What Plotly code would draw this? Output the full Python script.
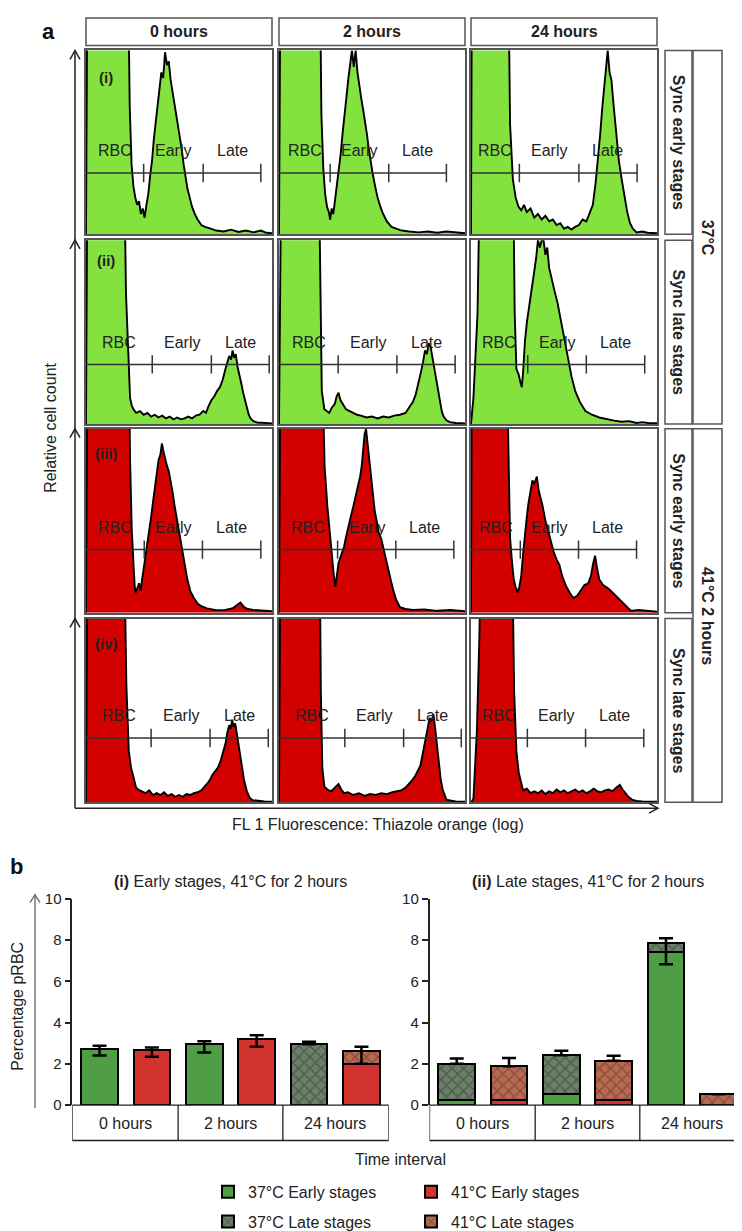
import plotly.graph_objects as go

W, H = 742, 1231
FONT = "Liberation Sans, Arial, Helvetica, sans-serif"
TXT = "#222222"


def px(x):
    return x / W


def py(y):
    return 1 - y / H


# ---------------- data: panel a (flow cytometry histograms) ----------------
hours = ["0 hours", "2 hours", "24 hours"]
row_tags = ["(i)", "(ii)", "(iii)", "(iv)"]
row_labels = ["Sync early stages", "Sync late stages", "Sync early stages", "Sync late stages"]
temp_labels = ["37°C", "41°C 2 hours"]
gate_names = ["RBC", "Early", "Late"]
row_fill = ["#84E23F", "#84E23F", "#D30000", "#D30000"]

# x: log fluorescence channel (0-100 of panel range), y: relative cell count (0-100)
h11_x = [0, 0.8, 22.5, 23.5, 24.5, 25.5, 26.5, 27.5, 28.5, 29.5, 30.5, 31.5, 32.5, 33.5, 34.5, 35.5, 36.5, 37.5, 38.5, 39.5, 40.5, 41.5, 42.5, 43.5, 44.5, 45.5, 46.5, 47.5, 48.5, 49.5, 50.5, 51.5, 52.5, 53.5, 54.5, 55.5, 57, 58.5, 60, 62, 64, 67, 70, 74, 78, 82, 86, 90, 94, 97, 100]
h11_y = [0, 150, 150, 70, 38, 26, 20, 16, 18, 11, 14, 9, 16, 22, 32, 40, 52, 62, 72, 80, 88, 85, 99, 92, 94, 84, 78, 72, 66, 58, 52, 46, 38, 31, 25, 21, 15, 11, 8, 5, 4, 3, 2, 1.5, 2.5, 1.2, 2, 1, 2, 0.8, 0.5]
h12_x = [0, 0.8, 21.9, 22.8, 23.8, 24.8, 25.8, 26.8, 27.5, 28.3, 29.2, 30.2, 31.2, 32.2, 33.2, 34.2, 35.2, 36.2, 37.2, 38.2, 39.2, 40.2, 41.2, 42.2, 43.2, 44.2, 45.2, 46.2, 47.2, 48.2, 49.2, 50.2, 51.5, 53, 54.5, 56, 58, 60.5, 63, 66, 70, 75, 80, 85, 90, 95, 100]
h12_y = [0, 150, 150, 65, 36, 22, 15, 12, 8, 14, 11, 19, 26, 34, 44, 55, 63, 74, 84, 93, 100, 91, 100, 88, 80, 74, 68, 62, 55, 47, 40, 34, 27, 20, 15, 11, 7, 4, 3, 2, 1.5, 1, 1.5, 0.8, 1.5, 0.8, 0.5]
h13_x = [0, 0.5, 20, 21, 22.5, 24, 25.5, 27, 28.5, 30, 32, 34, 36, 38, 40, 42, 44, 46, 48, 50, 52, 54, 56, 58, 60, 62, 64, 65.5, 67, 68.5, 69.5, 70.5, 71.5, 72.5, 73.5, 74.5, 75.5, 76.5, 77.5, 78.5, 79.5, 81, 82.5, 84, 85.5, 87, 89, 92, 95, 100]
h13_y = [0, 150, 150, 60, 30, 20, 15, 13, 16, 12, 14, 9, 11, 8, 10, 7, 8, 5, 6, 3, 4, 2.5, 4, 5, 8, 7, 12, 16, 28, 42, 55, 68, 80, 92, 100, 88, 84, 72, 60, 52, 40, 30, 20, 12, 6, 3, 1, 1.5, 0.8, 0.5]

h21_x = [0, 0.8, 20.4, 21.5, 22.5, 23.7, 24.6, 25.5, 27, 29, 31, 33, 35, 37, 39, 41, 43, 45, 47, 49, 51, 53, 55, 57, 59, 61, 63, 64.5, 66, 67.5, 69, 70.5, 72, 73.5, 75, 76, 77, 78, 78.8, 79.6, 80.5, 81.5, 82.5, 83.5, 84.5, 85.5, 86.5, 87.5, 88.5, 90, 92, 95, 100]
h21_y = [0, 150, 150, 71, 45, 14, 10, 8, 6, 7, 5, 6, 4, 5, 3.5, 4.5, 3, 4, 2.5, 3.5, 2.5, 3, 4, 3, 4.5, 5, 7, 6, 10, 13, 15, 18, 20, 24, 30, 33, 37, 35, 40, 36, 38, 31, 27, 22, 17, 13, 9, 5, 3, 1.5, 0.8, 0.5, 0.3]
h22_x = [0, 1.3, 21.3, 22.2, 23, 24.4, 25.5, 27, 28.5, 30, 31, 32, 33, 34.6, 36, 38, 40, 42, 44, 47, 50, 53, 56, 59, 62, 65, 68, 70, 72, 73.5, 75, 76.5, 77.5, 78.5, 79.5, 80.5, 81.5, 82.5, 83.5, 84.5, 85.5, 86.5, 87.5, 88.5, 90, 92, 95, 100]
h22_y = [0, 150, 150, 60, 18, 8, 7, 6, 9, 11, 15, 17, 13, 10, 8, 7, 6, 5, 4.5, 3.5, 4, 3, 4, 3.5, 4.5, 5, 6, 9, 12, 16, 22, 29, 34, 40, 38, 44, 42, 36, 30, 24, 19, 13, 7, 4, 2, 1, 0.5, 0.3]
h23_x = [0, 1.3, 3.5, 5, 22.5, 23.5, 24.4, 25.6, 26.5, 27.3, 28, 29, 30, 31, 32, 33, 34, 35, 36, 37, 38, 39, 40, 41, 42, 43.5, 45, 46.5, 48, 49.5, 51, 52.5, 54, 56, 58.5, 61.5, 65, 69, 73, 77, 81, 85, 89, 92, 96, 100]
h23_y = [0, 14, 60, 150, 150, 60, 30, 27, 23, 20, 28, 45, 55, 62, 70, 76, 84, 90, 100, 96, 100, 100, 92, 96, 85, 78, 72, 66, 58, 48, 40, 32, 26, 18, 12, 7, 5, 3.5, 2.5, 1.8, 1.2, 1.5, 0.5, 1, 0.4, 0.4]

h31_x = [0, 0.8, 23, 23.7, 24.6, 25.5, 26.2, 26.8, 27.5, 28.5, 29.3, 30.2, 31, 32, 33, 34, 35, 36, 37, 38, 39, 40, 40.8, 41.6, 42.5, 43.5, 44.5, 45.5, 46.5, 47.5, 48.5, 49.5, 50.5, 51.5, 52.5, 53.5, 54.5, 56, 58, 60, 62, 65, 70, 75, 79, 81, 83, 85, 87, 90, 95, 100]
h31_y = [0, 150, 150, 83, 45, 22, 14, 11, 13, 16, 12, 18, 24, 30, 38, 44, 52, 60, 68, 76, 83, 86, 92, 88, 84, 80, 77, 72, 66, 59, 53, 48, 41, 35, 29, 23, 18, 12, 8, 5, 3.5, 2.3, 1.4, 1.5, 2.5, 4, 5.5, 3, 2, 1.5, 1, 0.8]
h32_x = [0, 0.8, 23, 24.5, 26, 27.5, 28.5, 29.3, 30.3, 31, 32, 33, 34, 35, 36, 37, 38, 39, 40, 41, 42, 43, 43.6, 44.5, 45.3, 46, 46.8, 47.5, 48.5, 49.5, 50.5, 51.5, 52.5, 53.5, 55, 56.5, 57.7, 59, 60.5, 61.5, 63, 65, 68, 72, 78, 85, 92, 100]
h32_y = [0, 150, 150, 80, 58, 40, 32, 22, 14, 20, 27, 30, 33, 36, 41, 46, 50, 54, 58, 62, 66, 70, 74, 80, 88, 97, 100, 93, 86, 72, 62, 55, 50, 44, 40, 33, 28, 22, 16, 12, 7, 3, 2, 1.5, 1.8, 1, 1.5, 0.8]
h33_x = [0, 0.5, 19, 20, 21, 22, 23, 24, 25, 26, 27, 28, 29, 30, 30.8, 32, 33, 34, 35.4, 36.5, 37.5, 38.5, 40, 41.5, 43, 44.5, 46, 47.5, 49, 51, 53, 55, 57, 59, 61, 63, 64.5, 65.5, 66.7, 67.8, 69, 71, 74, 77, 79.5, 82, 84.6, 86, 90, 95, 100]
h33_y = [0, 150, 150, 90, 41, 28, 18, 14, 11, 14, 20, 32, 44, 52, 59, 66, 72, 70, 74, 66, 62, 58, 50, 44, 38, 33, 29, 26, 20, 14.7, 11, 8, 9, 12, 15, 16, 20, 26, 31, 24, 18, 15, 13, 10, 7.6, 5, 2.3, 1, 1.5, 0.8, 0.5]

h41_x = [0, 0.8, 20.4, 21.7, 23, 24.2, 25.5, 26.8, 28, 30, 32, 34, 36, 38, 40, 42, 44, 46, 48, 50, 52, 54, 56, 58, 60, 62, 63.5, 65, 66.5, 68, 69.5, 71, 72.5, 74, 75, 76, 77, 77.8, 78.6, 79.4, 80.2, 81, 82, 83, 84, 85, 86.5, 88, 89.5, 92, 96, 100]
h41_y = [0, 150, 150, 64, 28, 19, 14, 8.5, 7, 6, 5, 6.5, 4, 5, 4, 5.5, 3.5, 4.5, 3, 4, 3, 4.5, 4, 5, 5.5, 6.5, 8, 10, 12, 15, 17, 19, 23, 28, 32, 38, 42, 40, 45, 41, 43, 38, 32, 25, 19, 12, 6, 2.5, 1.2, 0.8, 0.5, 0.4]
h42_x = [0, 0.8, 21.8, 22.5, 23.3, 24.4, 26, 28, 30, 32, 33.5, 35, 37, 40, 43, 46, 49, 52, 55, 58, 61, 64, 66, 68, 70, 71.5, 73, 74.5, 76, 77, 78, 79, 80, 81, 82, 83, 84, 85, 86, 87, 88, 89, 90, 92, 95, 100]
h42_y = [0, 150, 150, 60, 19, 8.5, 7, 6, 8, 10, 7, 5, 5.5, 4, 5, 3.5, 4.5, 4, 5, 4.5, 5.5, 6, 6.7, 8, 10, 12, 14, 17, 20, 25, 30, 37, 42, 46, 44, 48, 40, 30, 19, 12, 7, 4, 1.5, 1, 0.5, 0.4]
h43_x = [0, 1.3, 3.2, 4.5, 5.5, 22, 23.2, 24.4, 25.7, 27, 28, 30, 32, 34, 36, 38, 40, 42, 44, 46, 48, 50, 52, 54, 56, 58, 60, 62, 64, 66, 68, 70, 72, 74, 76, 78, 80, 81.5, 83, 84.6, 86.5, 89, 92, 96, 100]
h43_y = [0, 2, 40, 90, 150, 150, 60, 28, 16, 10, 6.5, 7.5, 5, 6, 5, 6.5, 4.5, 6, 5, 7, 5.5, 6.5, 5, 6, 7, 5.5, 6.5, 5, 6, 7.5, 6, 5.5, 6.5, 7, 6, 8, 9.5, 7, 5, 3, 1.5, 0.8, 0.5, 0.4, 0.3]

curves = [
    [(h11_x, h11_y), (h12_x, h12_y), (h13_x, h13_y)],
    [(h21_x, h21_y), (h22_x, h22_y), (h23_x, h23_y)],
    [(h31_x, h31_y), (h32_x, h32_y), (h33_x, h33_y)],
    [(h41_x, h41_y), (h42_x, h42_y), (h43_x, h43_y)],
]

# gate boundaries (end of RBC / end of Early / end of Late) on the channel axis
gates = [
    [[31, 63, 94], [27.5, 59, 90], [26, 58, 89.3]],
    [[35.6, 67.4, 98.5], [31.8, 63.4, 94.7], [30.5, 62, 93.4]],
    [[31.3, 62.6, 94], [31.5, 62.8, 94], [26.5, 57.8, 89]],
    [[35, 66.7, 98], [35.4, 67, 98], [30.3, 61.6, 92.9]],
]
gate_level = [33.3, 32.4, 34.3, 35.0]

# ---------------- data: panel b (bar charts) ----------------
groups = ["0 hours", "2 hours", "24 hours"]
# (i) Early stages, 41°C for 2 hours
early37_i = [2.72, 2.98, None]
late37_i = [None, None, 2.95]
early41_i = [2.66, 3.18, 2.00]
late41_i = [None, None, 0.60]
errup37_i = [0.16, 0.12, 0.12]
errdn37_i = [0.32, 0.43, 0.0]
errup41_i = [0.13, 0.20, 0.23]
errdn41_i = [0.32, 0.35, 0.60]
# (ii) Late stages, 41°C for 2 hours
early37_ii = [0.25, 0.55, 7.40]
late37_ii = [1.75, 1.87, 0.45]
early41_ii = [0.25, 0.25, None]
late41_ii = [1.63, 1.90, 0.53]
errup37_ii = [0.26, 0.21, 0.24]
errdn37_ii = [0.0, 0.0, 1.03]
errup41_ii = [0.40, 0.24, 0.0]
errdn41_ii = [0.0, 0.0, 0.0]

C_E37 = "#4F9E45"
C_E41 = "#D3332E"
PAT37 = dict(shape="x", bgcolor="#6b7f69", fgcolor="#2a332a", size=8, solidity=0.3)
PAT41 = dict(shape="x", bgcolor="#b66a52", fgcolor="#5a2a20", size=8, solidity=0.3)

# ---------------- geometry (pixels) ----------------
panel_left = [78, 271, 463]
panel_w = 186
row_top = [34, 227, 419, 612]
row_h = 187

fig = go.Figure()
layout = {}
shapes = []
ann = []

BOX = dict(color="#555555", width=1.5)

# column headers
for c, hname in enumerate(hours):
    x0 = panel_left[c]
    shapes.append(dict(type="rect", xref="paper", yref="paper", x0=px(x0), x1=px(x0 + panel_w),
                       y0=py(29), y1=py(1), line=BOX))
    ann.append(dict(x=px(x0 + panel_w / 2), y=py(15), text="<b>%s</b>" % hname,
                    font=dict(size=16, color=TXT)))

k = 0
for r in range(4):
    for c in range(3):
        k += 1
        xa = "x" if k == 1 else "x%d" % k
        ya = "y" if k == 1 else "y%d" % k
        xl = "xaxis" if k == 1 else "xaxis%d" % k
        yl = "yaxis" if k == 1 else "yaxis%d" % k
        cx, cy = curves[r][c]
        fig.add_trace(go.Scatter(x=cx, y=cy, mode="lines", fill="tozeroy", fillcolor=row_fill[r],
                                 line=dict(color="black", width=1.9), xaxis=xa, yaxis=ya,
                                 showlegend=False, hoverinfo="skip"))
        t = gates[r][c]
        gy = gate_level[r]
        gx = [0, t[-1], None]
        gyy = [gy, gy, None]
        for tv in t:
            gx += [tv, tv, None]
            gyy += [gy - 5, gy + 5, None]
        fig.add_trace(go.Scatter(x=gx, y=gyy, mode="lines", line=dict(color="#333333", width=1.5),
                                 xaxis=xa, yaxis=ya, showlegend=False, hoverinfo="skip"))
        bounds = [0] + t
        for i, gname in enumerate(gate_names):
            ann.append(dict(x=(bounds[i] + bounds[i + 1]) / 2, y=gy + 12, xref=xa, yref=ya, text=gname,
                            font=dict(size=16, color=TXT)))
        x0 = panel_left[c]
        y0 = row_top[r]
        layout[xl] = dict(domain=[px(x0), px(x0 + panel_w)], range=[0, 100], anchor=ya,
                          showticklabels=False, ticks="", showgrid=False, zeroline=False,
                          showline=True, mirror=True, linecolor="#555555", linewidth=1.5, fixedrange=True)
        layout[yl] = dict(domain=[py(y0 + row_h), py(y0)], range=[0, 100], anchor=xa,
                          showticklabels=False, ticks="", showgrid=False, zeroline=False,
                          showline=True, mirror=True, linecolor="#555555", linewidth=1.5, fixedrange=True)

    # row tag and strip labels
    y0 = row_top[r]
    ann.append(dict(x=px(panel_left[0] + 20), y=py([62, 248, 444, 637][r]), text="<b>%s</b>" % row_tags[r],
                    font=dict(size=15, color=TXT)))
    shapes.append(dict(type="rect", xref="paper", yref="paper", x0=px(657), x1=px(684),
                       y0=py(y0 + row_h), y1=py(y0), line=BOX))
    ann.append(dict(x=px(670.5), y=py(y0 + row_h / 2), text="<b>%s</b>" % row_labels[r], textangle=90,
                    font=dict(size=16, color=TXT)))
    # up arrowhead on the count axis
    shapes.append(dict(type="path", xref="paper", yref="paper",
                       path="M %f %f L %f %f L %f %f" % (px(62), py(y0 + 9), px(67), py(y0), px(72), py(y0 + 9)),
                       line=dict(color="#222", width=1.5)))

for t_i, tl in enumerate(temp_labels):
    ytop = row_top[2 * t_i]
    ybot = row_top[2 * t_i + 1] + row_h
    shapes.append(dict(type="rect", xref="paper", yref="paper", x0=px(685), x1=px(714),
                       y0=py(ybot), y1=py(ytop), line=BOX))
    ann.append(dict(x=px(699.5), y=py((ytop + ybot) / 2), text="<b>%s</b>" % tl, textangle=90,
                    font=dict(size=16, color=TXT)))

# axes arrows of panel a
shapes.append(dict(type="line", xref="paper", yref="paper", x0=px(67), x1=px(67), y0=py(805), y1=py(34),
                   line=dict(color="#222", width=1.5)))
shapes.append(dict(type="line", xref="paper", yref="paper", x0=px(67), x1=px(650), y0=py(805), y1=py(805),
                   line=dict(color="#222", width=1.5)))
shapes.append(dict(type="path", xref="paper", yref="paper",
                   path="M %f %f L %f %f L %f %f" % (px(641), py(800), px(650), py(805), px(641), py(810)),
                   line=dict(color="#222", width=1.5)))
ann.append(dict(x=px(43), y=py(418), text="Relative cell count", textangle=-90, font=dict(size=16, color=TXT)))
ann.append(dict(x=px(370), y=py(822), text="FL 1 Fluorescence: Thiazole orange (log)", font=dict(size=16, color=TXT)))
ann.append(dict(x=px(40), y=py(15), text="<b>a</b>", font=dict(size=22, color="#111")))
ann.append(dict(x=px(8), y=py(864), text="<b>b</b>", font=dict(size=22, color="#111")))

# ---------------- panel b ----------------
bar_panels = [
    dict(ax="13", left=64.3, right=380.7, title="<b>(i)</b> Early stages, 41°C for 2 hours",
         e37=early37_i, l37=late37_i, e41=early41_i, l41=late41_i,
         u37=errup37_i, d37=errdn37_i, u41=errup41_i, d41=errdn41_i, legend=True),
    dict(ax="14", left=421.5, right=737.5, title="<b>(ii)</b> Late stages, 41°C for 2 hours",
         e37=early37_ii, l37=late37_ii, e41=early41_ii, l41=late41_ii,
         u37=errup37_ii, d37=errdn37_ii, u41=errup41_ii, d41=errdn41_ii, legend=False),
]
XR = [-0.52, 5.52]
pos37 = [2 * g for g in range(len(groups))]
pos41 = [2 * g + 1 for g in range(len(groups))]


def tot(a, b):
    return [(u or 0) + (v or 0) for u, v in zip(a, b)]


for bp in bar_panels:
    xa, ya = "x" + bp["ax"], "y" + bp["ax"]
    common = dict(xaxis=xa, yaxis=ya, width=0.7, hoverinfo="skip")
    outline = dict(color="black", width=2)
    fig.add_trace(go.Bar(x=pos37, y=bp["e37"], name="37°C Early stages", legend="legend", legendgroup="e37",
                         showlegend=bp["legend"], marker=dict(color=C_E37, line=outline), **common))
    fig.add_trace(go.Bar(x=pos41, y=bp["e41"], name="41°C Early stages", legend="legend2", legendgroup="e41",
                         showlegend=bp["legend"], marker=dict(color=C_E41, line=outline), **common))
    fig.add_trace(go.Bar(x=pos37, y=bp["l37"], name="37°C Late stages", legend="legend", legendgroup="l37",
                         showlegend=bp["legend"], marker=dict(color="#2a332a", pattern=PAT37, line=outline), **common))
    fig.add_trace(go.Bar(x=pos41, y=bp["l41"], name="41°C Late stages", legend="legend2", legendgroup="l41",
                         showlegend=bp["legend"], marker=dict(color="#5a2a20", pattern=PAT41, line=outline), **common))
    for pos, e, l, u, d in [(pos37, bp["e37"], bp["l37"], bp["u37"], bp["d37"]),
                            (pos41, bp["e41"], bp["l41"], bp["u41"], bp["d41"])]:
        fig.add_trace(go.Scatter(x=pos, y=tot(e, l), mode="markers", xaxis=xa, yaxis=ya,
                                 marker=dict(size=1, color="rgba(0,0,0,0)"), showlegend=False, hoverinfo="skip",
                                 error_y=dict(type="data", symmetric=False, array=u, arrayminus=d,
                                              color="black", thickness=2.5, width=7)))
    layout["xaxis" + bp["ax"]] = dict(domain=[px(bp["left"]), px(bp["right"])], range=XR, anchor=ya,
                                      visible=False, fixedrange=True)
    layout["yaxis" + bp["ax"]] = dict(domain=[py(1107), py(897)], range=[0, 10], anchor=xa,
                                      tickvals=[0, 2, 4, 6, 8, 10], ticks="outside", ticklen=6, tickwidth=1.5,
                                      tickcolor="#222", showline=True, linecolor="#222", linewidth=1.5,
                                      showgrid=False, zeroline=False, tickfont=dict(size=15, color=TXT),
                                      fixedrange=True)
    # category box below the bars
    shapes.append(dict(type="rect", xref=xa, yref="paper", x0=XR[0], x1=XR[1], y0=py(1143), y1=py(1107),
                       line=dict(color="#222", width=1.3)))
    for g in range(1, len(groups)):
        shapes.append(dict(type="line", xref=xa, yref="paper", x0=2 * g - 0.5, x1=2 * g - 0.5,
                           y0=py(1143), y1=py(1107), line=dict(color="#222", width=1.3)))
    for g, gname in enumerate(groups):
        ann.append(dict(x=(pos37[g] + pos41[g]) / 2, y=py(1126), xref=xa, yref="paper", text=gname,
                        font=dict(size=16, color=TXT)))
    ann.append(dict(x=px((bp["left"] + bp["right"]) / 2), y=py(880), text=bp["title"],
                    font=dict(size=16, color=TXT)))

ann.append(dict(x=px(392), y=py(1162), text="Time interval", font=dict(size=16, color=TXT)))
ann.append(dict(x=px(10), y=py(1007), text="Percentage pRBC", textangle=-90, font=dict(size=16, color=TXT)))
shapes.append(dict(type="line", xref="paper", yref="paper", x0=px(27), x1=px(27), y0=py(1110), y1=py(893),
                   line=dict(color="#777", width=1.5)))
shapes.append(dict(type="path", xref="paper", yref="paper",
                   path="M %f %f L %f %f L %f %f" % (px(22), py(901), px(27), py(893), px(32), py(901)),
                   line=dict(color="#777", width=1.5)))

for a in ann:
    a.setdefault("showarrow", False)
    a.setdefault("xref", "paper")
    a.setdefault("yref", "paper")
    a.setdefault("xanchor", "center")
    a.setdefault("yanchor", "middle")

fig.update_layout(
    width=W, height=H, autosize=False,
    margin=dict(l=0, r=0, t=0, b=0),
    paper_bgcolor="white", plot_bgcolor="white",
    font=dict(family=FONT, color=TXT, size=16),
    barmode="stack",
    shapes=shapes, annotations=ann,
    legend=dict(x=px(200), y=py(1178), xanchor="left", yanchor="top", font=dict(size=16, color=TXT),
                tracegroupgap=6, bgcolor="rgba(0,0,0,0)"),
    legend2=dict(x=px(403), y=py(1178), xanchor="left", yanchor="top", font=dict(size=16, color=TXT),
                 tracegroupgap=6, bgcolor="rgba(0,0,0,0)"),
    **layout,
)

fig.write_html("out.html")
